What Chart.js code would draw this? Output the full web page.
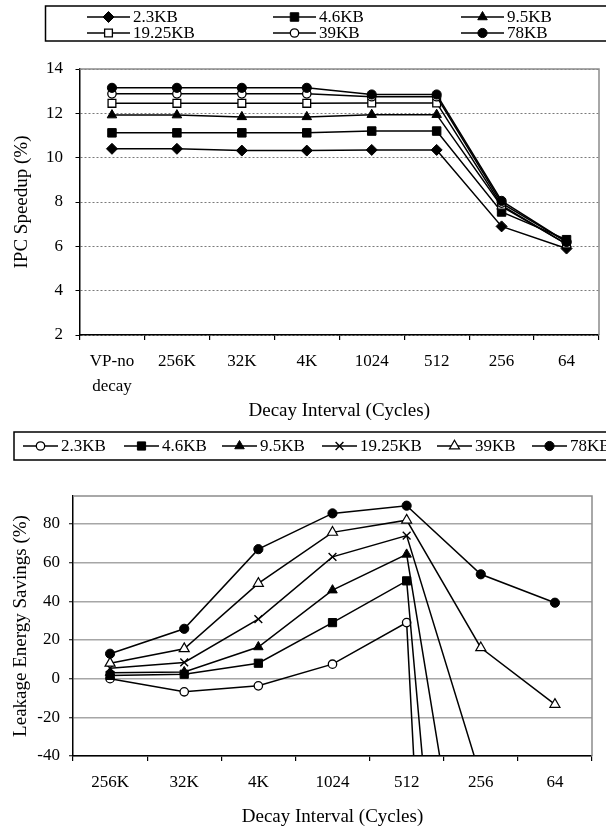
<!DOCTYPE html>
<html>
<head>
<meta charset="utf-8">
<script src="https://cdn.jsdelivr.net/npm/chart.js@4.4.1/dist/chart.umd.min.js"></script>
<style>
  html, body { margin: 0; padding: 0; background: #fff; width: 606px; height: 829px; overflow: hidden; }
  canvas { position: absolute; left: 0; }
  #ipc { top: 0; }
  #leak { top: 430px; }
</style>
</head>
<body>
<canvas id="ipc" width="606" height="430"></canvas>
<canvas id="leak" width="606" height="399"></canvas>
<script>
const FONT = '"Liberation Serif", "Times New Roman", serif';

// ---- IPC speedup vs. decay interval ----
const ipcIntervals = [['VP-no', 'decay'], '256K', '32K', '4K', '1024', '512', '256', '64'];
const ipcTicks = [2, 4, 6, 8, 10, 12, 14];
const ipc2_3KB   = [10.4, 10.4, 10.32, 10.32, 10.35, 10.35, 6.9, 5.9];
const ipc4_6KB   = [11.12, 11.12, 11.12, 11.12, 11.2, 11.2, 7.55, 6.3];
const ipc9_5KB   = [11.92, 11.92, 11.84, 11.84, 11.94, 11.94, 7.8, 6.1];
const ipc19_25KB = [12.45, 12.45, 12.45, 12.45, 12.47, 12.47, 7.85, 6.1];
const ipc39KB    = [12.88, 12.88, 12.88, 12.88, 12.75, 12.75, 7.95, 6.2];
const ipc78KB    = [13.15, 13.15, 13.15, 13.15, 12.85, 12.85, 8.05, 6.2];

// ---- leakage energy savings vs. decay interval ----
const leakIntervals = ['256K', '32K', '4K', '1024', '512', '256', '64'];
const leakTicks = [-40, -20, 0, 20, 40, 60, 80];
const leak2_3KB   = [0, -6.8, -3.7, 7.5, 29, -700, -1400];
const leak4_6KB   = [1.7, 2.3, 8, 29, 50.6, -380, -800];
const leak9_5KB   = [3.1, 3.5, 16.4, 45.8, 64.3, -170, -380];
const leak19_25KB = [5.4, 8.4, 30.8, 63, 74, -51, -130];
const leak39KB    = [8, 15.5, 49.3, 75.7, 82, 16, -13.3];
const leak78KB    = [12.9, 25.8, 67, 85.5, 89.5, 54, 39.3];

const sizeNames = ['2.3KB', '4.6KB', '9.5KB', '19.25KB', '39KB', '78KB'];

function series(label, data, style, idx) {
  return Object.assign({
    label, data,
    borderColor: '#000', borderWidth: 1.5,
    pointBorderColor: '#000', pointBorderWidth: 1,
    pointBackgroundColor: '#000',
    pointHoverRadius: style.pointRadius,
    tension: 0, fill: false,
    order: 5 - idx,
    clip: { left: 10, right: 10, top: 10, bottom: 0 }
  }, style);
}

const ipcStyles = [
  { pointStyle: 'rectRot', pointRadius: 5.5 },
  { pointStyle: 'rect', pointRadius: 6 },
  { pointStyle: 'triangle', pointRadius: 5.5 },
  { pointStyle: 'rect', pointRadius: 5.5, pointBackgroundColor: '#fff', pointBorderWidth: 1.3 },
  { pointStyle: 'circle', pointRadius: 4.2, pointBackgroundColor: '#fff', pointBorderWidth: 1.3 },
  { pointStyle: 'circle', pointRadius: 4.6 }
];
const leakStyles = [
  { pointStyle: 'circle', pointRadius: 4.2, pointBackgroundColor: '#fff', pointBorderWidth: 1.3 },
  { pointStyle: 'rect', pointRadius: 5.8 },
  { pointStyle: 'triangle', pointRadius: 5.5 },
  { pointStyle: 'crossRot', pointRadius: 5.5, pointBorderWidth: 1.4 },
  { pointStyle: 'triangle', pointRadius: 5.8, pointBackgroundColor: '#fff', pointBorderWidth: 1.2 },
  { pointStyle: 'circle', pointRadius: 4.6 }
];

// Gray frame on the top and right edges of the plot area
const plotFrame = {
  id: 'plotFrame',
  beforeDatasetsDraw(chart) {
    const { ctx, chartArea: a } = chart;
    ctx.save();
    ctx.strokeStyle = '#8c8c8c';
    ctx.lineWidth = 1.5;
    ctx.beginPath();
    ctx.moveTo(a.left, a.top);
    ctx.lineTo(a.right, a.top);
    ctx.lineTo(a.right, a.bottom);
    ctx.stroke();
    ctx.restore();
  }
};

// Boxed legend drawn at fixed slots
const boxLegend = {
  id: 'boxLegend',
  afterDraw(chart, args, opts) {
    const { ctx } = chart;
    const ds = chart.data.datasets;
    ctx.save();
    ctx.strokeStyle = '#000';
    ctx.lineWidth = 1.5;
    ctx.strokeRect(opts.box.x, opts.box.y, opts.box.w, opts.box.h);
    ctx.font = '17px ' + FONT;
    ctx.textBaseline = 'middle';
    ctx.textAlign = 'left';
    opts.slots.forEach((s, i) => {
      const d = ds[i];
      ctx.strokeStyle = '#000';
      ctx.lineWidth = 1.5;
      ctx.beginPath();
      ctx.moveTo(s.x, s.y);
      ctx.lineTo(s.x + opts.len, s.y);
      ctx.stroke();
      ctx.fillStyle = d.pointBackgroundColor;
      ctx.strokeStyle = '#000';
      ctx.lineWidth = d.pointBorderWidth;
      Chart.helpers.drawPoint(ctx, {
        pointStyle: d.pointStyle, radius: d.pointRadius, rotation: 0, borderWidth: d.pointBorderWidth
      }, s.x + opts.len / 2, s.y);
      ctx.fillStyle = '#000';
      ctx.fillText(d.label, s.x + opts.len + 3, s.y + 1);
    });
    ctx.restore();
  }
};

function makeChart(el, cfg) {
  return new Chart(document.getElementById(el), {
    type: 'line',
    data: {
      labels: cfg.labels,
      datasets: cfg.values.map((v, i) => series(sizeNames[i], v, cfg.styles[i], i))
    },
    options: {
      responsive: false,
      animation: false,
      devicePixelRatio: 1,
      events: [],
      layout: { padding: cfg.padding },
      plugins: {
        legend: { display: false },
        tooltip: { enabled: false },
        boxLegend: cfg.legend
      },
      scales: {
        x: {
          type: 'category',
          offset: true,
          grid: { offset: true, drawOnChartArea: false, drawTicks: true, tickLength: 5, color: '#000', lineWidth: 1.2 },
          border: { display: true, color: '#000', width: 1.5 },
          ticks: { color: '#000', font: { family: FONT, size: 17, lineHeight: cfg.xLineHeight }, padding: cfg.xTickPad, maxRotation: 0, autoSkip: false },
          title: { display: true, text: 'Decay Interval (Cycles)', color: '#000', font: { family: FONT, size: 19 }, padding: { top: 0, bottom: cfg.xTitlePad } },
          afterFit(s) { s.height = cfg.xHeight; }
        },
        y: {
          min: cfg.yMin, max: cfg.yMax,
          afterBuildTicks(s) { s.ticks = cfg.yTicks.map(v => ({ value: v })); },
          grid: { color: cfg.gridColor, lineWidth: cfg.gridWidth, tickLength: 4, tickColor: '#000', tickWidth: 1, tickBorderDash: [] },
          border: { display: true, color: '#000', width: 1.5, dash: cfg.gridDash },
          ticks: { color: '#000', font: { family: FONT, size: 17 }, padding: cfg.yTickPad },
          title: { display: true, text: cfg.yTitle, color: '#000', font: { family: FONT, size: 19 }, padding: { top: cfg.yTitlePad, bottom: 0 } },
          afterFit(s) { s.width = cfg.yWidth; }
        }
      }
    },
    plugins: [plotFrame, boxLegend]
  });
}

makeChart('ipc', {
  labels: ipcIntervals,
  values: [ipc2_3KB, ipc4_6KB, ipc9_5KB, ipc19_25KB, ipc39KB, ipc78KB],
  styles: ipcStyles,
  padding: { top: 69, right: 2, left: 0, bottom: 0 },
  xHeight: 95, xTickPad: 9.5, xLineHeight: 1.45, xTitlePad: 7.5,
  yWidth: 79.5, yTickPad: 12.5, yTitlePad: 10.6,
  yMin: 2, yMax: 14, yTicks: ipcTicks,
  gridColor: '#7a7a7a', gridWidth: 1, gridDash: [2, 2],
  yTitle: 'IPC Speedup (%)',
  legend: {
    box: { x: 45.5, y: 6, w: 600, h: 35 },
    len: 43,
    slots: [
      { x: 87, y: 17 }, { x: 273, y: 17 }, { x: 461, y: 17 },
      { x: 87, y: 33 }, { x: 273, y: 33 }, { x: 461, y: 33 }
    ]
  }
});

makeChart('leak', {
  labels: leakIntervals,
  values: [leak2_3KB, leak4_6KB, leak9_5KB, leak19_25KB, leak39KB, leak78KB],
  styles: leakStyles,
  padding: { top: 66, right: 14, left: 0, bottom: 0 },
  xHeight: 73, xTickPad: 11.8, xLineHeight: 1.2, xTitlePad: 0.6,
  yWidth: 73, yTickPad: 9, yTitlePad: 9.6,
  yMin: -40, yMax: 94.5, yTicks: leakTicks,
  gridColor: '#a6a6a6', gridWidth: 1.5, gridDash: [],
  yTitle: 'Leakage Energy Savings (%)',
  legend: {
    box: { x: 14, y: 2, w: 600, h: 28 },
    len: 35,
    slots: [
      { x: 23, y: 16 }, { x: 124, y: 16 }, { x: 222, y: 16 },
      { x: 322, y: 16 }, { x: 437, y: 16 }, { x: 532, y: 16 }
    ]
  }
});
</script>
</body>
</html>
